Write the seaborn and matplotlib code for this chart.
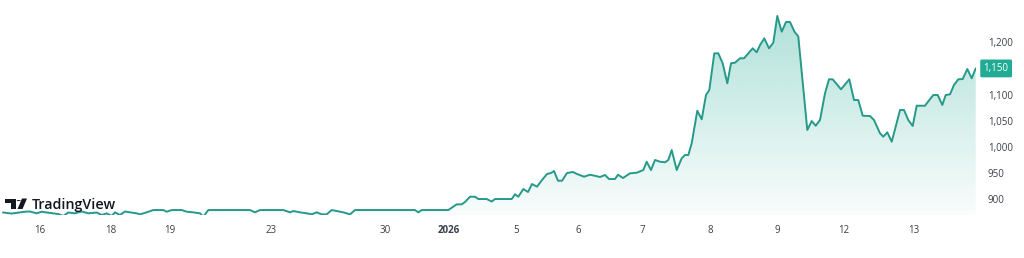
import numpy as np
import pandas as pd
import matplotlib
matplotlib.use("Agg")
import matplotlib.pyplot as plt
import seaborn as sns
from matplotlib.patches import Polygon, Circle

# ---- data (session position, price) ----
session_pos = [3, 11.7, 20, 25, 30, 36.7, 41.7, 46.7, 53.3, 58.3, 63.3, 68.3, 75, 81.7, 88.3, 96.7,
               101.7, 106.7, 111.7, 115, 120, 125, 130, 136.7, 140, 146.7, 153.3, 163.3, 166.7, 171.7,
               181.7, 186.7, 193.3, 200, 203.3, 208.3, 250, 255, 260, 283.3, 290, 293.3, 300, 306.7,
               311.7, 316.7, 321.7, 326.7, 331.7, 336.7, 343.3, 350, 355, 415, 418.3, 421.7, 448.3,
               456.7, 461.7, 465, 470, 475, 478.3, 486.7, 491.7, 495, 511.7, 515, 518.3, 523.3, 528,
               532, 537, 542, 547, 551, 554, 558, 562, 567, 573, 577, 584, 590, 596, 600, 605, 609,
               615, 618, 623, 630, 636.7, 643.3, 646.7, 651, 655, 660, 665, 668.3, 671.7, 676.7,
               681.7, 685, 688.3, 691.7, 697.3, 701.7, 706, 709.3, 714.3, 718.3, 722.7, 727.3, 731,
               735, 740, 744, 748.3, 752.7, 756.7, 760, 764.3, 769, 773.3, 777.3, 781.7, 786, 790,
               794.5, 798.3, 807.3, 811.7, 815.7, 820, 825, 829, 832.7, 841, 849.3, 854, 858.3, 862.7,
               870, 874, 880, 883.3, 887.3, 891.7, 895.7, 900, 904, 908.3, 912.7, 916.7, 925, 929.3,
               933.3, 937.7, 942.3, 945.7, 950, 954, 958.3, 962.7, 967.3, 971.7, 975.7]
price = [874.2, 872.2, 874.5, 875.7, 876.1, 872.6, 875.7, 874.2, 872.6, 871.3, 867.5, 874.2, 872.6,
         876.1, 872.6, 874.2, 869.4, 872.6, 867.5, 874.5, 869.4, 876.1, 874.5, 872.6, 870.7, 874.5,
         878.9, 878.9, 875.7, 878.9, 878.9, 875.7, 874.5, 872.6, 866.1, 878.9, 878.9, 874.5, 878.9,
         878.9, 874.5, 877.0, 874.5, 872.6, 870.7, 874.5, 870.7, 870.7, 878.9, 877.0, 874.5, 870.7,
         878.9, 878.9, 874.5, 878.9, 878.9, 889.8, 889.8, 894.3, 904.4, 904.4, 900.0, 900.0, 895.2,
         900.0, 900.0, 909.0, 904.4, 919.1, 913.4, 928.7, 923.6, 936.4, 947.9, 949.8, 953.6, 935.0,
         935.0, 949.8, 951.7, 947.9, 942.7, 946.5, 944.0, 942.1, 946.0, 938.3, 938.3, 946.5, 940.2,
         949.2, 950.3, 955.5, 971.4, 955.5, 974.7, 971.4, 970.3, 974.7, 993.8, 955.5, 977.9, 984.2,
         984.2, 1006.6, 1069.1, 1052.6, 1099.1, 1108.7, 1178.9, 1178.9, 1159.8, 1121.5, 1159.8,
         1161.0, 1169.4, 1169.4, 1178.9, 1188.5, 1180.9, 1194.8, 1207.6, 1188.5, 1199.2, 1250.4,
         1220.3, 1238.9, 1238.9, 1220.3, 1211.1, 1032.1, 1049.3, 1040.3, 1051.2, 1102.4, 1129.2,
         1129.2, 1110.0, 1129.2, 1089.5, 1089.5, 1059.5, 1058.9, 1051.2, 1025.8, 1019.3, 1027.7,
         1009.7, 1038.4, 1070.4, 1070.4, 1051.2, 1039.8, 1078.6, 1078.6, 1089.5, 1099.1, 1099.1,
         1080.0, 1099.1, 1100.4, 1118.3, 1129.2, 1129.7, 1148.9, 1131.1, 1150.0]

x_tick_pos = [39.3, 111, 170, 270.7, 385, 448.7, 516, 578.7, 642.3, 710, 777.7, 844, 913.3]
x_tick_labels = ["16", "18", "19", "23", "30", "2026", "5", "6", "7", "8", "9", "12", "13"]
y_ticks = [900, 950, 1000, 1050, 1100, 1200]
y_tick_labels = ["900", "950", "1,000", "1,050", "1,100", "1,200"]
last_price = 1150
last_label = "1,150"

LINE = "#26998a"
TEAL = "#22ab94"
TXT = "#3a3e49"

sns.set_theme(style="white")
plt.rcParams["font.family"] = ["Open Sans", "DejaVu Sans"]

W, H = 1024, 258
fig = plt.figure(figsize=(W / 100, H / 100), dpi=100)
fig.patch.set_facecolor("white")
plot_right = 976
plot_bottom = 215
ax = fig.add_axes([0, (H - plot_bottom) / H, plot_right / W, plot_bottom / H])
ax.set_facecolor("white")

df = pd.DataFrame({"t": session_pos, "price": price})
ymin, ymax = 869.4, 1281.0
xmin, xmax = 0, 976

# gradient area fill
poly = ax.fill_between(df["t"], df["price"], ymin, facecolor="none", edgecolor="none")
path = poly.get_paths()[0]
grad = np.zeros((256, 2, 4))
rgb = matplotlib.colors.to_rgb(TEAL)
alphas = np.linspace(0.38, 0.03, 256)[:, None]
grad[:, :, 0] = rgb[0]
grad[:, :, 1] = rgb[1]
grad[:, :, 2] = rgb[2]
grad[:, :, 3] = alphas
im = ax.imshow(grad, extent=[xmin, xmax, ymin, ymax], origin="upper", aspect="auto", zorder=1)
im.set_clip_path(path, transform=ax.transData)

sns.lineplot(data=df, x="t", y="price", ax=ax, color=LINE, linewidth=1.4,
             estimator=None, sort=False, zorder=3)

ax.set_xlim(xmin, xmax)
ax.set_ylim(ymin, ymax)
ax.set_xlabel("")
ax.set_ylabel("")
for s in ax.spines.values():
    s.set_visible(False)
ax.grid(False)

ax.set_xticks(x_tick_pos)
ax.set_xticklabels(x_tick_labels)
ax.tick_params(axis="x", length=0, pad=7.5, labelsize=7, labelcolor=TXT)
for lbl in ax.get_xticklabels():
    if lbl.get_text() == "2026":
        lbl.set_fontweight("bold")

ax.yaxis.tick_right()
ax.set_yticks(y_ticks)
ax.set_yticklabels(y_tick_labels)
ax.tick_params(axis="y", length=0, pad=8.5, labelsize=7, labelcolor=TXT)

# last price label
ax.annotate(last_label, xy=(1, last_price), xycoords=("axes fraction", "data"),
            xytext=(5.5, 0), textcoords="offset points", ha="left", va="center",
            fontsize=7, color="white",
            bbox=dict(boxstyle="round,pad=0.35,rounding_size=0.15", fc=TEAL, ec="none"),
            annotation_clip=False, zorder=5)

# TradingView watermark logo (figure pixel coords -> fractions)
def fx(px):
    return px / W
def fy(py):
    return 1 - py / H

dark = "#131722"
tbar = Polygon([(fx(5), fy(198.5)), (fx(15.5), fy(198.5)), (fx(15.5), fy(209)), (fx(11), fy(209)),
                (fx(11), fy(202.5)), (fx(5), fy(202.5))], closed=True, transform=fig.transFigure,
               fc=dark, ec="none", zorder=10)
fig.patches.append(tbar)
dot = Circle((fx(18.7), fy(200.6)), 2.1 / W, transform=fig.transFigure, fc=dark, ec="none", zorder=10)
fig.patches.append(dot)
slash = Polygon([(fx(22), fy(198.5)), (fx(27), fy(198.5)), (fx(22.5), fy(209)), (fx(17.5), fy(209))],
                closed=True, transform=fig.transFigure, fc=dark, ec="none", zorder=10)
fig.patches.append(slash)
fig.text(fx(31.5), fy(209), "TradingView", fontsize=10.3, fontweight="semibold", color=dark,
         ha="left", va="baseline", zorder=10)

fig.savefig("out.png", dpi=100, facecolor="white")
